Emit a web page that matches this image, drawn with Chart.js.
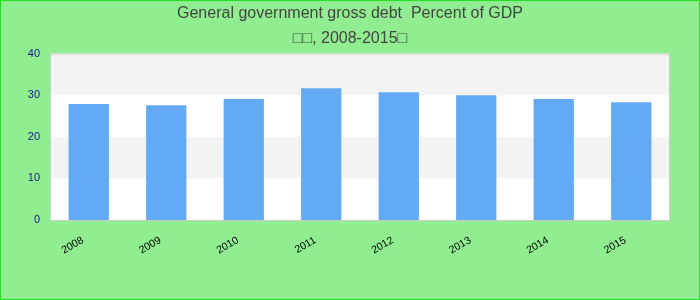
<!DOCTYPE html>
<html>
<head>
<meta charset="utf-8">
<script src="https://cdn.jsdelivr.net/npm/chart.js@4.4.0/dist/chart.umd.min.js"></script>
<style>
  html, body { margin: 0; padding: 0; background: #90ee90; }
  #wrap { width: 700px; height: 300px; box-sizing: border-box; border: 1px solid #22e022; background: #90ee90; }
  canvas { display: block; }
</style>
</head>
<body>
<div id="wrap"><canvas id="debt-chart" width="698" height="298"></canvas></div>
<script>
// data
const years = ["2008", "2009", "2010", "2011", "2012", "2013", "2014", "2015"];
const debtValues = [27.9, 27.6, 29.1, 31.7, 30.7, 30.0, 29.1, 28.3];
const titleLines = ["General government gross debt  Percent of GDP", "\u25a1\u25a1, 2008-2015\u25a1"];
const bandRanges = [[10, 20], [30, 40]]; // grey stripes

// alternate stripes + plot border, sized from the scales
const plotBands = {
  id: "plotBands",
  beforeDatasetsDraw(chart) {
    const ctx = chart.ctx;
    const x = chart.scales.x;
    const y = chart.scales.y;
    const left = x.left;
    const w = x.right - x.left;
    const top = y.getPixelForValue(40);
    const bottom = y.getPixelForValue(0);
    ctx.save();
    ctx.fillStyle = "#ffffff";
    ctx.fillRect(left, top, w, bottom - top);
    ctx.fillStyle = "#f3f3f3";
    bandRanges.forEach((r) => {
      const t = y.getPixelForValue(r[1]);
      const b = y.getPixelForValue(r[0]);
      ctx.fillRect(left, t, w, b - t);
    });
    ctx.strokeStyle = "#cccccc";
    ctx.lineWidth = 1;
    ctx.strokeRect(left + 0.5, top + 0.5, w - 1, bottom - top);
    ctx.restore();
  },
};

const ctx = document.getElementById("debt-chart").getContext("2d");
new Chart(ctx, {
  type: "bar",
  data: {
    labels: years,
    datasets: [
      {
        data: debtValues,
        backgroundColor: "#63aaf5",
        barPercentage: 1,
        categoryPercentage: 0.52,
      },
    ],
  },
  options: {
    responsive: false,
    animation: false,
    layout: { padding: 0 },
    plugins: {
      legend: { display: false },
      tooltip: { enabled: false },
      title: {
        display: true,
        text: titleLines,
        color: "#444444",
        font: { family: "Liberation Sans, Arial, sans-serif", size: 16, weight: "normal", lineHeight: 1.55 },
        padding: { top: 0, bottom: 3 },
      },
    },
    scales: {
      x: {
        grid: { display: false, drawTicks: false },
        border: { display: false },
        ticks: {
          color: "#000000",
          font: { family: "Liberation Sans, Arial, sans-serif", size: 10.5 },
          minRotation: 30,
          maxRotation: 30,
          padding: 14,
          labelOffset: -6,
        },
        afterFit: (scale) => { scale.height = 79; },
      },
      y: {
        min: 0,
        max: 40,
        grid: { display: false, drawTicks: false },
        border: { display: false },
        ticks: {
          stepSize: 10,
          color: "#1a1a8c",
          font: { family: "Liberation Sans, Arial, sans-serif", size: 11 },
          padding: 10,
        },
        afterFit: (scale) => { scale.width = 49; },
      },
      // empty right gutter so the title stays centred on the page
      yRight: {
        position: "right",
        min: 0,
        max: 40,
        grid: { display: false, drawTicks: false },
        border: { display: false },
        ticks: { display: false },
        afterFit: (scale) => { scale.width = 29; },
      },
    },
  },
  plugins: [plotBands],
});
</script>
</body>
</html>
